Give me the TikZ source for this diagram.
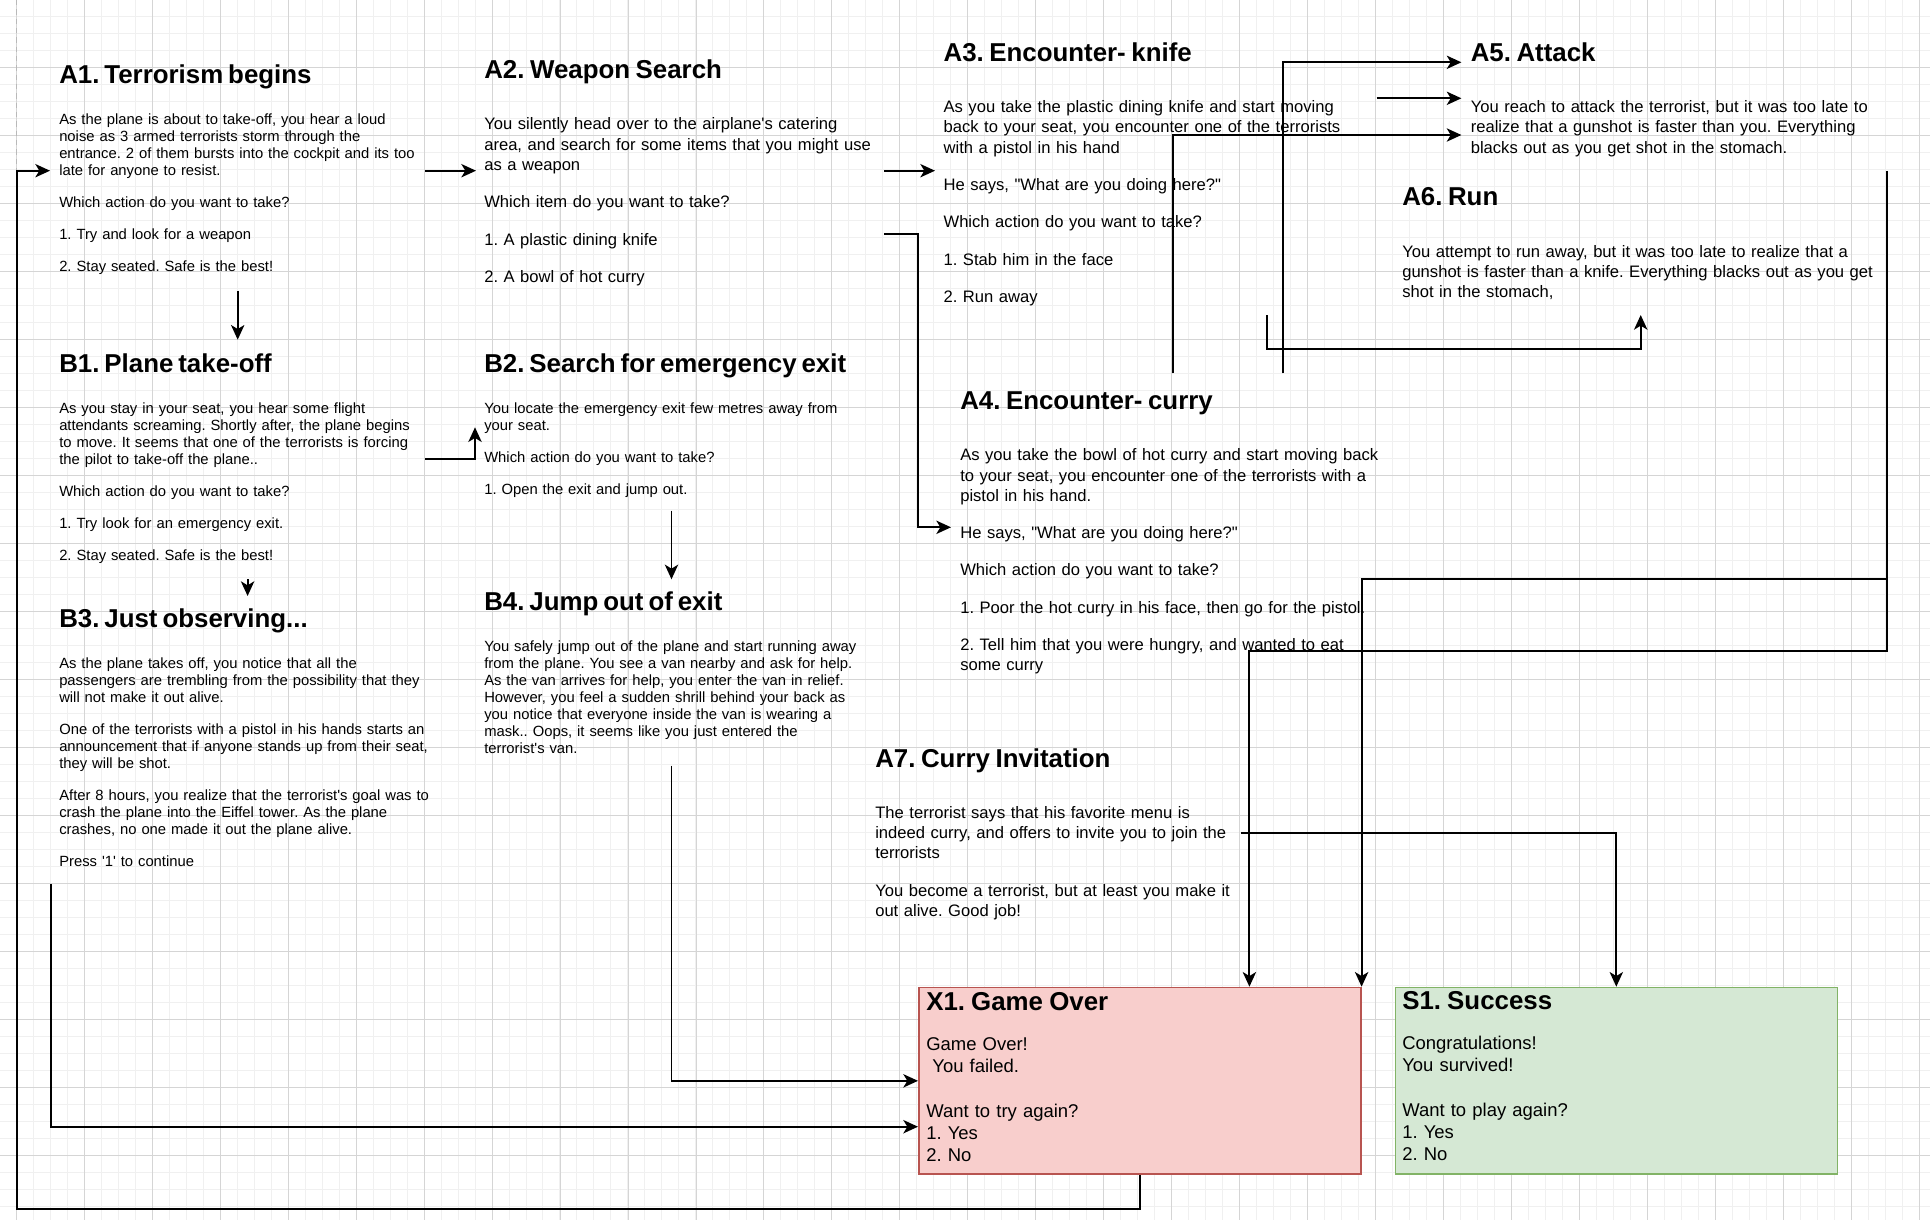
\documentclass[tikz,border=0pt]{standalone}
\usepackage{fontspec}
\setmainfont{Liberation Sans}
\usetikzlibrary{arrows.meta,calc,positioning}
\definecolor{gridminor}{HTML}{F0F0F0}
\definecolor{gridmajor}{HTML}{D5D5D5}
\definecolor{overfill}{HTML}{F8CECC}
\definecolor{overline}{HTML}{B85450}
\definecolor{winfill}{HTML}{D5E8D4}
\definecolor{winline}{HTML}{82B366}
\newlength\scenegap
\newlength\scenehead
\newcommand{\nextpara}{\par\vspace{\scenegap}}
\newcommand{\scenetitle}[1]{{\fontsize{19.4pt}{22pt}\selectfont\bfseries\rule{0pt}{14pt}#1\par}\vspace{\scenehead}}
\newcommand{\sq}{\textquotesingle}
\newcommand{\dq}{\textquotedbl}
\frenchspacing

\tikzset{
  scene/.style={anchor=north west, inner sep=0pt, align=left, text width=380pt},
  small/.style={scene, font=\fontsize{11.1pt}{12.75pt}\selectfont,
    execute at begin node={\setlength\scenegap{11.4pt}\setlength\scenehead{18pt}}},
  medium/.style={scene, font=\fontsize{12.45pt}{15.15pt}\selectfont,
    execute at begin node={\setlength\scenegap{12.85pt}\setlength\scenehead{23.35pt}}},
  endtext/.style={scene, text width=300pt, font=\fontsize{13.85pt}{16.7pt}\selectfont,
    execute at begin node={\setlength\scenegap{16.7pt}\setlength\scenehead{13.3pt}}},
  endbox/.style={draw=#1line, fill=#1fill, line width=1.2pt, anchor=north west,
    minimum width=331.5pt, minimum height=140pt, inner sep=0pt},
  link/.style={line width=1.4pt, -{Stealth[length=11pt,width=10pt,inset=3pt]}},
}

\begin{document}
\begin{tikzpicture}[x=0.75pt, y=-0.75pt]
  \useasboundingbox (0,0) rectangle (1930,1220);
  \fill[white] (0,0) rectangle (1930,1220);

  % grid
  \foreach \i in {-1,...,112}
    \draw[gridminor, line width=0.75pt] ({16.3+\i*16.99},0) -- ++(0,1220);
  \foreach \i in {0,...,71}
    \draw[gridminor, line width=0.75pt] (0,{\i*16.99}) -- ++(1930,0);
  \foreach \i in {0,...,28}
    \draw[gridmajor, line width=0.75pt] ({16.3+\i*67.97},0) -- ++(0,1220);
  \foreach \i in {0,...,17}
    \draw[gridmajor, line width=0.75pt] (0,{\i*67.97}) -- ++(1930,0);

  % scenes
  \node[small] (A1) at (59,64) {\scenetitle{A1. Terrorism begins}%
    As the plane is about to take-off, you hear a loud\\
    noise as 3 armed terrorists storm through the\\
    entrance. 2 of them bursts into the cockpit and its too\\
    late for anyone to resist.\nextpara
    Which action do you want to take?\nextpara
    1. Try and look for a weapon\nextpara
    2. Stay seated. Safe is the best!};
  \node[medium] (A2) at (484,59.6) {\scenetitle{A2. Weapon Search}%
    You silently head over to the airplane\sq s catering\\
    area, and search for some items that you might use\\
    as a weapon\nextpara
    Which item do you want to take?\nextpara
    1. A plastic dining knife\nextpara
    2. A bowl of hot curry};
  \node[medium] (A3) at (943.3,42.3) {\scenetitle{A3. Encounter- knife}%
    As you take the plastic dining knife and start moving\\
    back to your seat, you encounter one of the terrorists\\
    with a pistol in his hand\nextpara
    He says, \dq What are you doing here?\dq\nextpara
    Which action do you want to take?\nextpara
    1. Stab him in the face\nextpara
    2. Run away};
  \node[medium] (A4) at (960,390.6) {\scenetitle{A4. Encounter- curry}%
    As you take the bowl of hot curry and start moving back\\
    to your seat, you encounter one of the terrorists with a\\
    pistol in his hand.\nextpara
    He says, \dq What are you doing here?\dq\nextpara
    Which action do you want to take?\nextpara
    1. Poor the hot curry in his face, then go for the pistol.\nextpara
    2. Tell him that you were hungry, and wanted to eat\\
    some curry};
  \node[medium] (A5) at (1470.5,42.3) {\scenetitle{A5. Attack}%
    You reach to attack the terrorist, but it was too late to\\
    realize that a gunshot is faster than you. Everything\\
    blacks out as you get shot in the stomach.};
  \node[medium] (A6) at (1402,187) {\scenetitle{A6. Run}%
    You attempt to run away, but it was too late to realize that a\\
    gunshot is faster than a knife. Everything blacks out as you get\\
    shot in the stomach,};
  \node[medium] (A7) at (875,748) {\scenetitle{A7. Curry Invitation}%
    The terrorist says that his favorite menu is\\
    indeed curry, and offers to invite you to join the\\
    terrorists\nextpara
    You become a terrorist, but at least you make it\\
    out alive. Good job!};
  \node[small] (B1) at (59,353) {\scenetitle{B1. Plane take-off}%
    As you stay in your seat, you hear some flight\\
    attendants screaming. Shortly after, the plane begins\\
    to move. It seems that one of the terrorists is forcing\\
    the pilot to take-off the plane..\nextpara
    Which action do you want to take?\nextpara
    1. Try look for an emergency exit.\nextpara
    2. Stay seated. Safe is the best!};
  \node[small] (B2) at (484,353) {\scenetitle{B2. Search for emergency exit}%
    You locate the emergency exit few metres away from\\
    your seat.\nextpara
    Which action do you want to take?\nextpara
    1. Open the exit and jump out.};
  \node[small] (B3) at (59,608) {\scenetitle{B3. Just observing...}%
    As the plane takes off, you notice that all the\\
    passengers are trembling from the possibility that they\\
    will not make it out alive.\nextpara
    One of the terrorists with a pistol in his hands starts an\\
    announcement that if anyone stands up from their seat,\\
    they will be shot.\nextpara
    After 8 hours, you realize that the terrorist\sq s goal was to\\
    crash the plane into the Eiffel tower. As the plane\\
    crashes, no one made it out the plane alive.\nextpara
    Press \sq 1\sq\ to continue};
  \node[small] (B4) at (484,591.3) {\scenetitle{B4. Jump out of exit}%
    You safely jump out of the plane and start running away\\
    from the plane. You see a van nearby and ask for help.\\
    As the van arrives for help, you enter the van in relief.\\
    However, you feel a sudden shrill behind your back as\\
    you notice that everyone inside the van is wearing a\\
    mask.. Oops, it seems like you just entered the\\
    terrorist\sq s van.};

  % endings
  \node[endbox=over] (X1) at (918,986.7) {};
  \node[endbox=win] (S1) at (1394.5,986.7) {};
  \node[endtext] (X1txt) at (926,991.3) {\scenetitle{X1. Game Over}%
    Game Over!\\
    \ You failed.\nextpara
    Want to try again?\\
    1. Yes\\
    2. No};
  \node[endtext] (S1txt) at (1402,990.7) {\scenetitle{S1. Success}%
    Congratulations!\\
    You survived!\nextpara
    Want to play again?\\
    1. Yes\\
    2. No};

  % ports
  \coordinate (A1l) at (50,170.7);
  \coordinate (A1loop) at (16.7,170.7);
  \coordinate (A1r) at (425,170.7);
  \coordinate (A1b) at (237.7,290.5);
  \coordinate (A2l) at (476,170.7);
  \coordinate (A2r) at (884.3,170.7);
  \coordinate (A2k) at (884.3,234.3);
  \coordinate (A3l) at (935,170.7);
  \coordinate (A3r) at (1376.7,98.3);
  \coordinate (A3b) at (1266.7,315);
  \coordinate (A4l) at (951,527.3);
  \coordinate (A4t1) at (1172.7,373.3);
  \coordinate (A4t2) at (1283.3,373.3);
  \coordinate (A5l1) at (1461.4,62.3);
  \coordinate (A5l2) at (1461.4,98.3);
  \coordinate (A5l3) at (1461.4,135);
  \coordinate (A5r) at (1887,171);
  \coordinate (A6b) at (1640.7,315);
  \coordinate (A6r) at (1887,260);
  \coordinate (A7r) at (1241.4,833.3);
  \coordinate (B1t) at (237.7,339.7);
  \coordinate (B1r) at (425,459);
  \coordinate (B1b) at (247.6,579);
  \coordinate (B2l) at (475,427.3);
  \coordinate (B2b) at (671.5,510.7);
  \coordinate (B3t) at (247.6,596);
  \coordinate (B3b) at (50.7,884);
  \coordinate (B4t) at (671.5,579.3);
  \coordinate (B4b) at (671.5,765.7);
  \coordinate (X1t) at (1249.4,986.7);
  \coordinate (X1l) at (918,1126.7);

  % page break line
  \draw[gray!55, line width=0.9pt, dash pattern=on 4pt off 3pt] (16.7,0) -- (A1loop);

  % connectors
  \draw[link] (A1r) -- (A2l);
  \draw[link] (A1b) -- (B1t);
  \draw[link] (A2r) -- (A3l);
  \draw[link] (A2k) -- ++(33.7,0) |- (A4l);
  \draw[link] (A3r) -- (A5l2);
  \draw[link] (A3b) -- ++(0,34) -| (A6b);
  \draw[link] (A4t1) |- (A5l3);
  \draw[link] (A4t2) |- (A5l1);
  \draw[link] (A5r) -- ++(0,479.7) -| (X1t);
  \draw[link] (A6r) -- ++(0,319) -| (X1.north east);
  \draw[link] (A7r) -| (S1.north);
  \draw[link] (B1r) -| (B2l);
  \draw[link] (B1b) -- (B3t);
  \draw[link] (B2b) -- (B4t);
  \draw[link] (B4b) |- (X1.west);
  \draw[link] (B3b) |- (X1l);
  \draw[link] (X1.south) -- ++(0,34) -| (A1loop) -- (A1l);
\end{tikzpicture}
\end{document}
